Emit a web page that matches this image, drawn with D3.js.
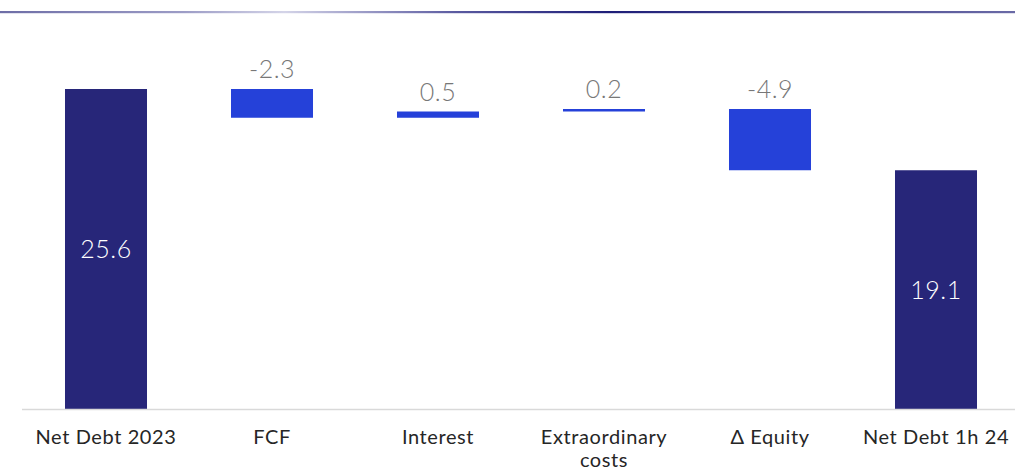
<!DOCTYPE html>
<html lang="en">
<head>
<meta charset="utf-8">
<title>Net debt bridge</title>
<style>
  body { margin: 0; background: #fff; }
  svg { display: block; }
  .cat text { font-family: Lato, "Open Sans", sans-serif; font-weight: 400; font-size: 20px; letter-spacing: 0.6px; fill: #262626; }
  .val { font-family: Lato, "Open Sans", sans-serif; font-weight: 300; font-size: 25px; letter-spacing: 0.5px; text-anchor: middle; }
</style>
<script src="https://d3js.org/d3.v7.min.js"></script>
</head>
<body>
<script>
var w = 1015, h = 472;

// chart data
var categories = ["Net Debt 2023", "FCF", "Interest", "Extraordinary costs", "\u0394 Equity", "Net Debt 1h 24"];
var values = [25.6, -2.3, 0.5, 0.2, -4.9, 19.1];
var isTotal = [true, false, false, false, false, true];
var catLines = [["Net Debt 2023"], ["FCF"], ["Interest"], ["Extraordinary", "costs"], ["\u0394 Equity"], ["Net Debt 1h 24"]];

var svg = d3.select("body").append("svg")
  .attr("width", w)
  .attr("height", h);

// top rule with a gradient
var defs = svg.append("defs");
var grad = defs.append("linearGradient").attr("id", "rule")
  .attr("x1", "0%").attr("x2", "100%").attr("y1", "0%").attr("y2", "0%");
[["0%", "#6d6da6"], ["18%", "#9c9cc6"], ["28%", "#d4d4e8"], ["45%", "#5a5aa0"], ["60%", "#1e1e78"], ["80%", "#4a4a92"], ["100%", "#6a6aa6"]]
  .forEach(function(s) { grad.append("stop").attr("offset", s[0]).attr("stop-color", s[1]); });
svg.append("rect").attr("x", 0).attr("y", 11).attr("width", w).attr("height", 2.2).attr("fill", "url(#rule)");

var x = d3.scaleBand()
  .domain(categories)
  .range([23, 1019])
  .paddingInner(0.506)
  .paddingOuter(0.253);

var y = d3.scaleLinear()
  .domain([0, 30])
  .range([409, 34]);

// waterfall running totals
var bars = [];
var running = 0;
categories.forEach(function(c, i) {
  var lo, hi;
  if (isTotal[i]) {
    lo = 0; hi = values[i]; running = values[i];
  } else {
    var next = running + values[i];
    lo = Math.min(running, next); hi = Math.max(running, next);
    running = next;
  }
  bars.push({cat: c, v: values[i], lo: lo, hi: hi, total: isTotal[i]});
});

svg.selectAll(".bar")
  .data(bars)
  .enter().append("rect")
  .attr("class", "bar")
  .attr("x", function(d) { return x(d.cat); })
  .attr("width", x.bandwidth())
  .attr("y", function(d) { return y(d.hi); })
  .attr("height", function(d) { return y(d.lo) - y(d.hi); })
  .attr("fill", function(d) { return d.total ? "#272679" : "#2541d9"; });

// axis baseline
svg.append("line")
  .attr("x1", 22).attr("x2", w)
  .attr("y1", y(0) + 0.5).attr("y2", y(0) + 0.5)
  .attr("stroke", "#d9d9d9").attr("stroke-width", 1.5);

// value labels
svg.selectAll(".val")
  .data(bars)
  .enter().append("text")
  .attr("class", "val")
  .attr("x", function(d) { return x(d.cat) + x.bandwidth() / 2; })
  .attr("y", function(d) { return d.total ? (y(d.lo) + y(d.hi)) / 2 + 9 : y(d.hi) - 11; })
  .attr("fill", function(d) { return d.total ? "#ffffff" : "#777777"; })
  .text(function(d) { return d3.format(".1f")(d.v).replace("\u2212", "-"); });

// category labels
var cat = svg.append("g").attr("class", "cat")
  .selectAll("text")
  .data(categories)
  .enter().append("text")
  .attr("text-anchor", "middle")
  .attr("x", function(d) { return x(d) + x.bandwidth() / 2; })
  .attr("y", 444);

cat.selectAll("tspan")
  .data(function(d, i) { return catLines[i]; })
  .enter().append("tspan")
  .attr("x", function() { return d3.select(this.parentNode).attr("x"); })
  .attr("dy", function(d, i) { return i == 0 ? 0 : 23; })
  .text(function(d) { return d; });
</script>
</body>
</html>
